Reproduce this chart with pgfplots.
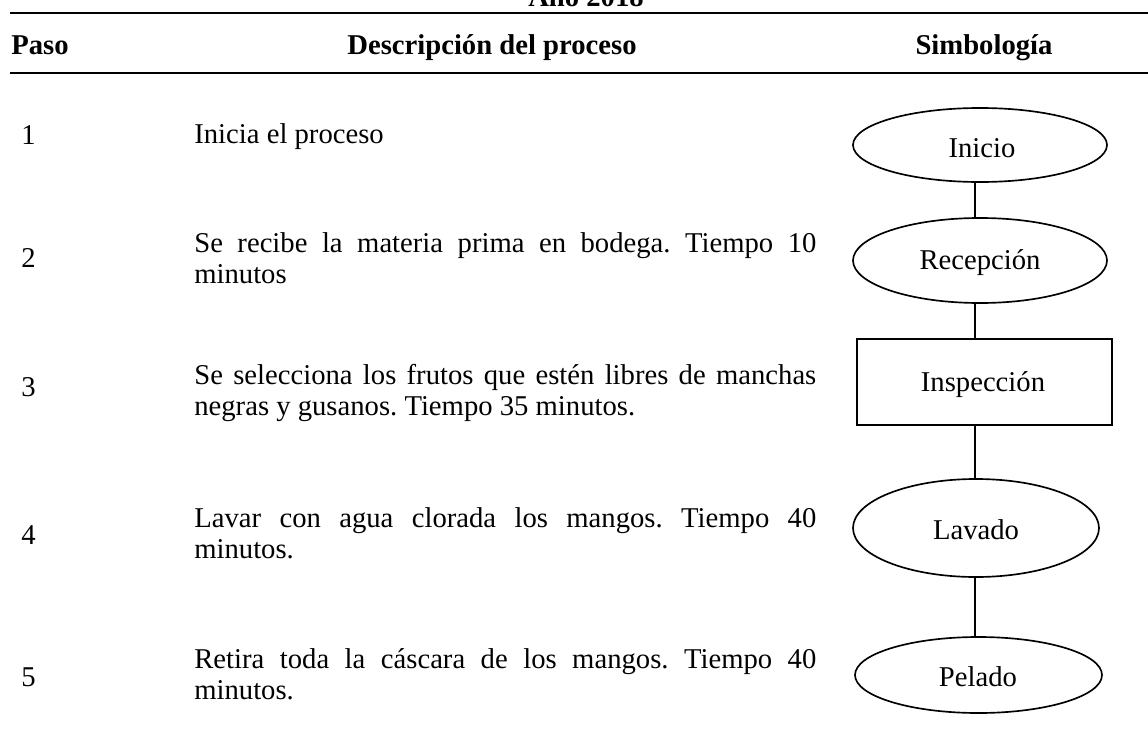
\documentclass[border=0pt]{standalone}
\usepackage{fontspec}
\setmainfont{Liberation Serif}
\usepackage{pgfplots}
\pgfplotsset{compat=1.18}
\frenchspacing
\begin{document}
\frenchspacing
\begin{tikzpicture}[every node/.style={font=\fontsize{17.2pt}{19pt}\selectfont\frenchspacing, inner sep=0pt}]
\useasboundingbox (0,0) rectangle (688.8pt,450.6pt);
\begin{axis}[at={(0,0)}, anchor=south west, scale only axis,
  width=688.8pt, height=450.6pt,
  xmin=0, xmax=1148, ymin=0, ymax=751, y dir=reverse,
  hide axis, clip=false]
% rules
\addplot[black, line width=1.2pt] coordinates {(10,13) (1148,13)};
\addplot[black, line width=1.2pt] coordinates {(10,73) (1148,73)};
% connectors
\addplot[black, line width=1pt] coordinates {(975,182) (975,218)};
\addplot[black, line width=1pt] coordinates {(975,303) (975,339)};
\addplot[black, line width=1pt] coordinates {(975,425) (975,479)};
\addplot[black, line width=1pt] coordinates {(975,577) (975,637)};
% header
\node[anchor=base, font=\fontsize{17.2pt}{19pt}\selectfont\bfseries] at (axis cs:586,7) {Año 2018};
\node[anchor=base west, font=\fontsize{17.2pt}{19pt}\selectfont\bfseries] at (axis cs:11,55) {Paso};
\node[anchor=base, font=\fontsize{17.2pt}{19pt}\selectfont\bfseries] at (axis cs:492,55) {Descripción del proceso};
\node[anchor=base, font=\fontsize{17.2pt}{19pt}\selectfont\bfseries] at (axis cs:984,55) {Simbología};
% step numbers
\node[anchor=base west] at (axis cs:21,144) {1};
\node[anchor=base west] at (axis cs:21,267) {2};
\node[anchor=base west] at (axis cs:21,396) {3};
\node[anchor=base west] at (axis cs:21,544) {4};
\node[anchor=base west] at (axis cs:21,686) {5};
% descriptions
\node[anchor=base west] at (axis cs:194,143) {Inicia el proceso};
\node[anchor=base west] at (axis cs:194,252) {\makebox[373.2pt][s]{Se recibe la materia prima en bodega. Tiempo 10}};
\node[anchor=base west] at (axis cs:194,283) {minutos};
\node[anchor=base west] at (axis cs:194,384) {\makebox[373.2pt][s]{Se selecciona los frutos que estén libres de manchas}};
\node[anchor=base west] at (axis cs:194,415) {negras y gusanos. Tiempo 35 minutos.};
\node[anchor=base west] at (axis cs:194,527) {\makebox[373.2pt][s]{Lavar con agua clorada los mangos. Tiempo 40}};
\node[anchor=base west] at (axis cs:194,558) {minutos.};
\node[anchor=base west] at (axis cs:194,668) {\makebox[373.2pt][s]{Retira toda la cáscara de los mangos. Tiempo 40}};
\node[anchor=base west] at (axis cs:194,699) {minutos.};
% shapes
\draw[line width=1pt] (axis cs:980,145) ellipse [x radius=76.2pt, y radius=22.2pt];
\draw[line width=1pt] (axis cs:980,260.5) ellipse [x radius=76.2pt, y radius=25.5pt];
\draw[line width=1pt] (axis cs:857,339) rectangle (axis cs:1112,425);
\draw[line width=1pt] (axis cs:976,528) ellipse [x radius=73.8pt, y radius=29.4pt];
\draw[line width=1pt] (axis cs:978.5,675) ellipse [x radius=74.1pt, y radius=22.8pt];
% shape labels
\node[anchor=base] at (axis cs:982,157) {Inicio};
\node[anchor=base] at (axis cs:980,269) {Recepción};
\node[anchor=base] at (axis cs:983,391) {Inspección};
\node[anchor=base] at (axis cs:976,539) {Lavado};
\node[anchor=base] at (axis cs:978,686) {Pelado};
\end{axis}
\end{tikzpicture}
\end{document}
